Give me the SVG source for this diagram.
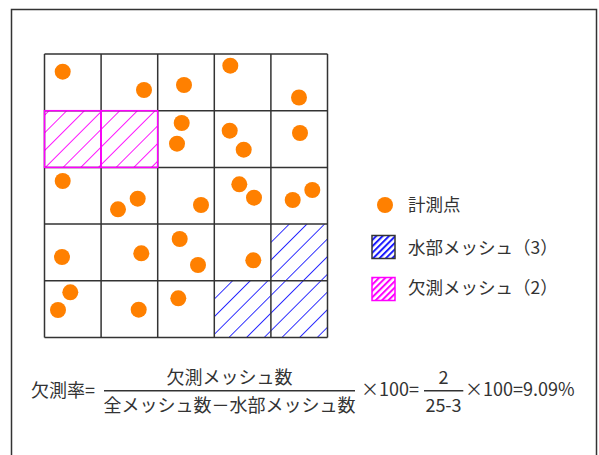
<svg xmlns="http://www.w3.org/2000/svg" width="599" height="455" viewBox="0 0 599 455">
<style>
text{font-family:"Noto Sans CJK JP","Noto Sans",sans-serif;fill:#333}
.t17{font-size:17.5px}
.t18{font-size:18px}
.pt{fill:#ff8000}
.grid{stroke:#333;stroke-width:1.5;fill:none}
</style>
<defs>
<pattern id="hb" patternUnits="userSpaceOnUse" width="12.5" height="12.5" patternTransform="rotate(45)">
<line x1="0" y1="0" x2="0" y2="12.5" stroke="#1a1aff" stroke-width="1.8"/>
</pattern>
<pattern id="hm" patternUnits="userSpaceOnUse" width="12.5" height="12.5" patternTransform="rotate(45)">
<line x1="0" y1="0" x2="0" y2="12.5" stroke="#ff00ff" stroke-width="1.8"/>
</pattern>
<pattern id="hbs" patternUnits="userSpaceOnUse" width="4.5" height="4.5" patternTransform="rotate(45)">
<line x1="1" y1="0" x2="1" y2="4.5" stroke="#1a1aff" stroke-width="2"/>
</pattern>
<pattern id="hms" patternUnits="userSpaceOnUse" width="4.5" height="4.5" patternTransform="rotate(45)">
<line x1="1" y1="0" x2="1" y2="4.5" stroke="#ff00ff" stroke-width="2"/>
</pattern>
</defs>
<rect width="599" height="455" fill="#fff"/>
<rect id="frame" x="11.5" y="9.5" width="585" height="460" fill="none" stroke="#333" stroke-width="1.5"/>

<g id="water-cells">
<rect x="270.9" y="224.1" width="56.6" height="56.7" fill="url(#hb)"/>
<rect x="214.3" y="280.8" width="56.6" height="56.7" fill="url(#hb)"/>
<rect x="270.9" y="280.8" width="56.6" height="56.7" fill="url(#hb)"/>
</g>
<g id="missing-cells-fill">
<rect x="44.5" y="110.7" width="113.2" height="56.7" fill="url(#hm)"/>
</g>
<g id="grid" class="grid">
<path d="M44.5 54V337.5M101.1 54V337.5M157.7 54V337.5M214.3 54V337.5M270.9 54V337.5M327.5 54V337.5"/>
<path d="M44.5 54H327.5M44.5 110.7H327.5M44.5 167.4H327.5M44.5 224.1H327.5M44.5 280.8H327.5M44.5 337.5H327.5"/>
</g>
<g id="missing-cells" fill="none" stroke="#ff00ff" stroke-width="1.5">
<rect x="44.5" y="110.7" width="56.6" height="56.7"/>
<rect x="101.1" y="110.7" width="56.6" height="56.7"/>
</g>

<g id="points" class="pt">
<circle cx="62.7" cy="71.7" r="8"/>
<circle cx="144" cy="90" r="8"/>
<circle cx="184" cy="85" r="8"/>
<circle cx="230.3" cy="65.7" r="8"/>
<circle cx="299" cy="97.5" r="8"/>
<circle cx="181.7" cy="123" r="8"/>
<circle cx="177" cy="143.7" r="8"/>
<circle cx="229.7" cy="130.7" r="8"/>
<circle cx="243.7" cy="149.7" r="8"/>
<circle cx="300" cy="133" r="8"/>
<circle cx="62.7" cy="181" r="8"/>
<circle cx="137.7" cy="198.7" r="8"/>
<circle cx="118" cy="209.3" r="8"/>
<circle cx="201" cy="205" r="8"/>
<circle cx="239.3" cy="184.3" r="8"/>
<circle cx="254" cy="197.7" r="8"/>
<circle cx="312.3" cy="190" r="8"/>
<circle cx="292.7" cy="200" r="8"/>
<circle cx="62" cy="257" r="8"/>
<circle cx="141.3" cy="253.3" r="8"/>
<circle cx="179.7" cy="239" r="8"/>
<circle cx="198" cy="265" r="8"/>
<circle cx="253.3" cy="260.3" r="8"/>
<circle cx="70.3" cy="292.3" r="8"/>
<circle cx="58" cy="310" r="8"/>
<circle cx="138.7" cy="309.7" r="8"/>
<circle cx="178.3" cy="298.3" r="8"/>
</g>

<g id="legend-point">
<circle class="pt" cx="385" cy="205" r="8"/>
<text class="t17" x="408" y="211">計測点</text>
</g>
<g id="legend-water">
<rect x="372" y="235.5" width="23" height="23" fill="url(#hbs)" stroke="#333" stroke-width="1.5"/>
<text class="t17" x="408" y="254">水部メッシュ（3）</text>
</g>
<g id="legend-missing">
<rect x="372" y="277.5" width="23" height="23" fill="url(#hms)" stroke="#ff00ff" stroke-width="1.5"/>
<text class="t17" x="408" y="294">欠測メッシュ（2）</text>
</g>

<g id="formula" class="t18">
<text x="31" y="397">欠測率=</text>
<line x1="104" y1="390.7" x2="355" y2="390.7" stroke="#333" stroke-width="1.5"/>
<text x="229.5" y="383.5" text-anchor="middle">欠測メッシュ数</text>
<text x="229.5" y="412" text-anchor="middle">全メッシュ数－水部メッシュ数</text>
<text x="361" y="396">×100=</text>
<line x1="424" y1="390.7" x2="463.3" y2="390.7" stroke="#333" stroke-width="1.5"/>
<text x="443.5" y="384" text-anchor="middle">2</text>
<text x="443.5" y="411.7" text-anchor="middle">25-3</text>
<text x="465" y="396">×100=9.09%</text>
</g>
</svg>
